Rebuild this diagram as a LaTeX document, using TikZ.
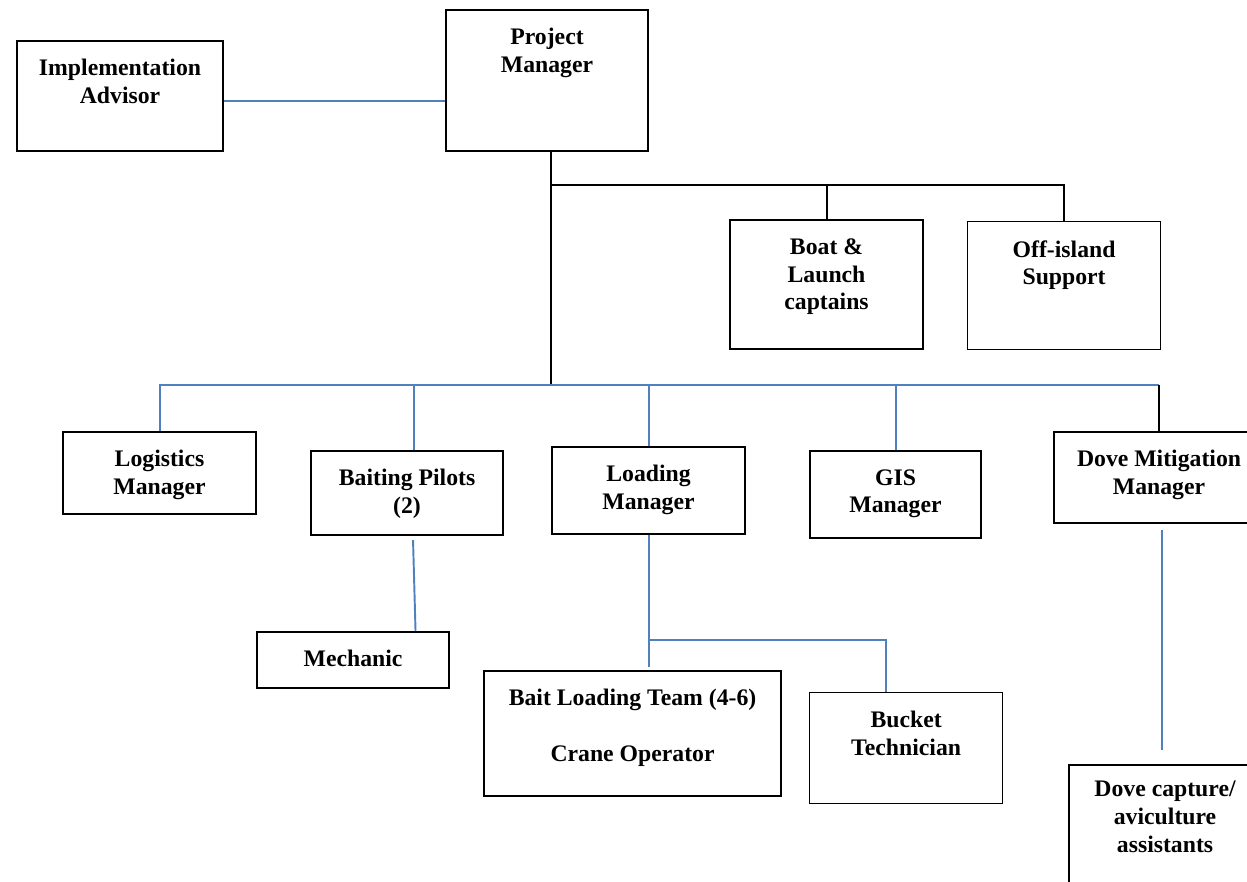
\documentclass[tikz,border=0pt]{standalone}
\usepackage{fontspec}
\setmainfont{Liberation Serif}
\usepackage{xcolor}
\usepackage{tikz}
\usetikzlibrary{positioning,calc}
\definecolor{linkblue}{RGB}{79,129,189}
\tikzset{
  post/.style={
    rectangle, draw=black, line width=1.2pt,
    anchor=north west, inner sep=0pt
  },
  thinpost/.style={post, line width=0.7pt},
  title/.style={
    font=\fontsize{13.5}{15.9}\selectfont\bfseries,
    align=center, inner sep=0pt, anchor=north
  },
  bluelink/.style={draw=linkblue, line width=1.1pt},
  blacklink/.style={draw=black, line width=1.1pt},
}

\begin{document}
\begin{tikzpicture}[x=0.02cm, y=-0.02cm]

  \clip (0,0) rectangle (1247,882);

  % Top level
  \node[post, minimum width=4.04cm, minimum height=2.82cm] (pm) at (445,9) {};
  \node[title, below=0.38cm of pm.north] (pm-t) {Project\\Manager};

  \node[post, minimum width=4.12cm, minimum height=2.2cm] (impl) at (16,40) {};
  \node[title, below=0.38cm of impl.north] (impl-t) {Implementation\\Advisor};

  % Support
  \node[post, minimum width=3.86cm, minimum height=2.58cm] (boat) at (729,219) {};
  \node[title, below=0.38cm of boat.north] (boat-t) {Boat \&\\Launch\\captains};

  \node[thinpost, minimum width=3.86cm, minimum height=2.56cm] (offi) at (967,221) {};
  \node[title, below=0.38cm of offi.north] (offi-t) {Off-island\\Support};

  % Managers
  \node[post, minimum width=3.86cm, minimum height=1.64cm] (logi) at (62,431) {};
  \node[title, below=0.38cm of logi.north] (logi-t) {Logistics\\Manager};

  \node[post, minimum width=3.84cm, minimum height=1.68cm] (bait) at (310,450) {};
  \node[title, below=0.38cm of bait.north] (bait-t) {Baiting Pilots\\(2)};

  \node[post, minimum width=3.86cm, minimum height=1.74cm] (load) at (551,446) {};
  \node[title, below=0.38cm of load.north] (load-t) {Loading\\Manager};

  \node[post, minimum width=3.42cm, minimum height=1.74cm] (gis) at (809,450) {};
  \node[title, below=0.38cm of gis.north] (gis-t) {GIS\\Manager};

  \node[post, minimum width=4.2cm, minimum height=1.82cm] (dove) at (1053,431) {};
  \node[title, below=0.38cm of dove.north] (dove-t) {Dove Mitigation\\Manager};

  % Teams
  \node[post, minimum width=3.84cm, minimum height=1.12cm] (mech) at (256,631) {};
  \node[title, below=0.38cm of mech.north] (mech-t) {Mechanic};

  \node[post, minimum width=5.94cm, minimum height=2.5cm] (team) at (483,670) {};
  \node[title, below=0.38cm of team.north] (team-t) {Bait Loading Team (4-6)\\[15.9pt]Crane Operator};

  \node[thinpost, minimum width=3.86cm, minimum height=2.22cm] (bucket) at (809,692) {};
  \node[title, below=0.38cm of bucket.north] (bucket-t) {Bucket\\Technician};

  \node[post, minimum width=3.84cm, minimum height=2.72cm] (dcap) at (1068,764) {};
  \node[title, below=0.34cm of dcap.north] (dcap-t) {Dove capture/\\aviculture\\assistants};

  % Junctions
  \coordinate (jtop) at (551,185);
  \coordinate (jbot) at (551,385);
  \coordinate (jteam) at (load.south |- 0,640);

  % Links
  \draw[bluelink] ([yshift=-0.1cm]impl.east) -- ([yshift=-0.1cm]impl.east -| pm.west);
  \draw[blacklink] (pm.south -| jbot) -- (jbot);
  \draw[blacklink] (jtop) -| (offi.north);
  \draw[blacklink] (boat.north |- jtop) -- (boat.north);

  \draw[bluelink] (logi.north) |- (dove.north |- jbot);
  \draw[blacklink] (dove.north |- jbot) -- (dove.north);
  \draw[bluelink] ([xshift=0.14cm]bait.north |- jbot) -- ([xshift=0.14cm]bait.north);
  \draw[bluelink] (load.north |- jbot) -- (load.north);
  \draw[bluelink] (gis.north |- jbot) -- (gis.north);

  \draw[bluelink] ([xshift=0.12cm,yshift=-0.08cm]bait.south) -- ([xshift=1.25cm]mech.north);
  \draw[bluelink] (load.south) -- ([yshift=0.06cm]load.south |- team.north);
  \draw[bluelink] (jteam) -| ([xshift=-0.41cm]bucket.north);
  \draw[bluelink] ([xshift=0.06cm,yshift=-0.12cm]dove.south) -- ([xshift=0.06cm,yshift=0.28cm]dove.south |- dcap.north);

\end{tikzpicture}
\end{document}
